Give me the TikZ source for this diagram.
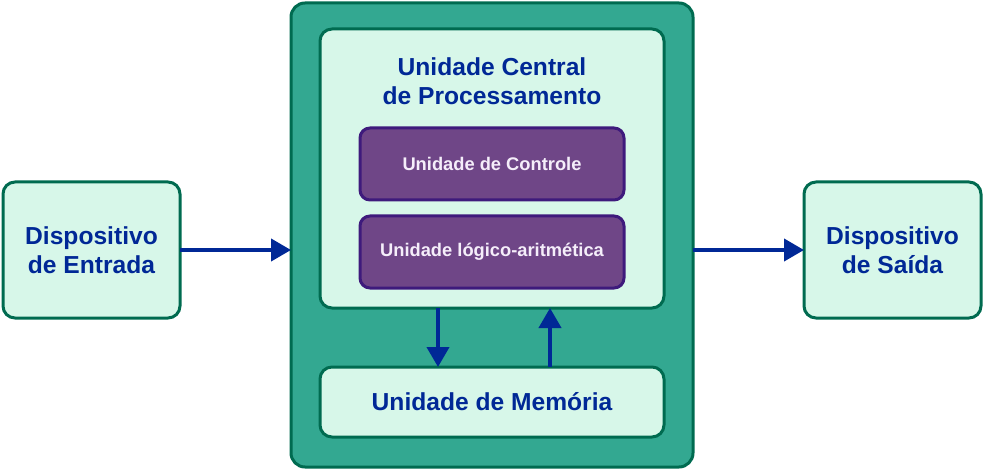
\documentclass[tikz,border=0pt]{standalone}
\usepackage{fontspec}
\setmainfont{Liberation Sans}
\usetikzlibrary{arrows.meta, positioning}

\definecolor{verdeclaro}{RGB}{215,247,233}
\definecolor{verdeescuro}{RGB}{0,107,80}
\definecolor{verdemedio}{RGB}{51,168,145}
\definecolor{roxo}{RGB}{111,70,135}
\definecolor{roxoescuro}{RGB}{62,26,124}
\definecolor{azul}{RGB}{0,40,150}
\definecolor{textoclaro}{RGB}{245,238,250}

\tikzset{
  caixa/.style={draw=verdeescuro, line width=3pt, fill=verdeclaro, rounded corners=12pt,
    text=azul, font=\bfseries\fontsize{24.6}{29}\selectfont, align=center},
  bloco/.style={draw=roxoescuro, line width=3pt, fill=roxo, rounded corners=10pt,
    text=textoclaro, font=\bfseries\fontsize{18.3}{20}\selectfont,
    minimum width=264pt, minimum height=72pt},
  seta/.style={draw=azul, line width=4pt, -{Triangle[length=20pt,width=22pt]}}
}

\begin{document}
\begin{tikzpicture}[x=1pt, y=-1pt, inner sep=0pt, outer sep=0pt]
      \useasboundingbox (0,0) rectangle (984,470);
      % outer system box
      \node[draw=verdeescuro, line width=3pt, fill=verdemedio, rounded corners=14pt,
        minimum width=402pt, minimum height=464pt] (sistema) at (492,235) {};
      % input and output devices
      \node[caixa, minimum width=177pt, minimum height=136pt] (entrada) at (91.5,250) {Dispositivo\\de Entrada};
      \node[caixa, minimum width=177pt, minimum height=136pt] (saida) at (892.5,250) {Dispositivo\\de Saída};
      % cpu and memory
      \node[caixa, minimum width=344pt, minimum height=279pt] (cpu) at (492,168.5) {};
      \node[text=azul, font=\bfseries\fontsize{24.6}{29}\selectfont, align=center] (titulo) at (492,81) {Unidade Central\\de Processamento};
      \node[bloco] (controle) at (492,164) {Unidade de Controle};
      \node[bloco] (ula) at (492,252) {Unidade lógico-aritmética};
      \node[caixa, minimum width=344pt, minimum height=70pt] (memoria) at (492,402) {Unidade de Memória};
      % horizontal arrows
      \draw[seta] (entrada) -- (entrada -| sistema.west);
      \draw[seta] (saida -| sistema.east) -- (saida);
      % vertical arrows
      \coordinate (desce) at (438,0);
      \coordinate (sobe) at (550,0);
      \draw[seta] (desce |- cpu.south) -- (desce |- memoria.north);
      \draw[seta] (sobe |- memoria.north) -- (sobe |- cpu.south);
    \end{tikzpicture}
\end{document}
